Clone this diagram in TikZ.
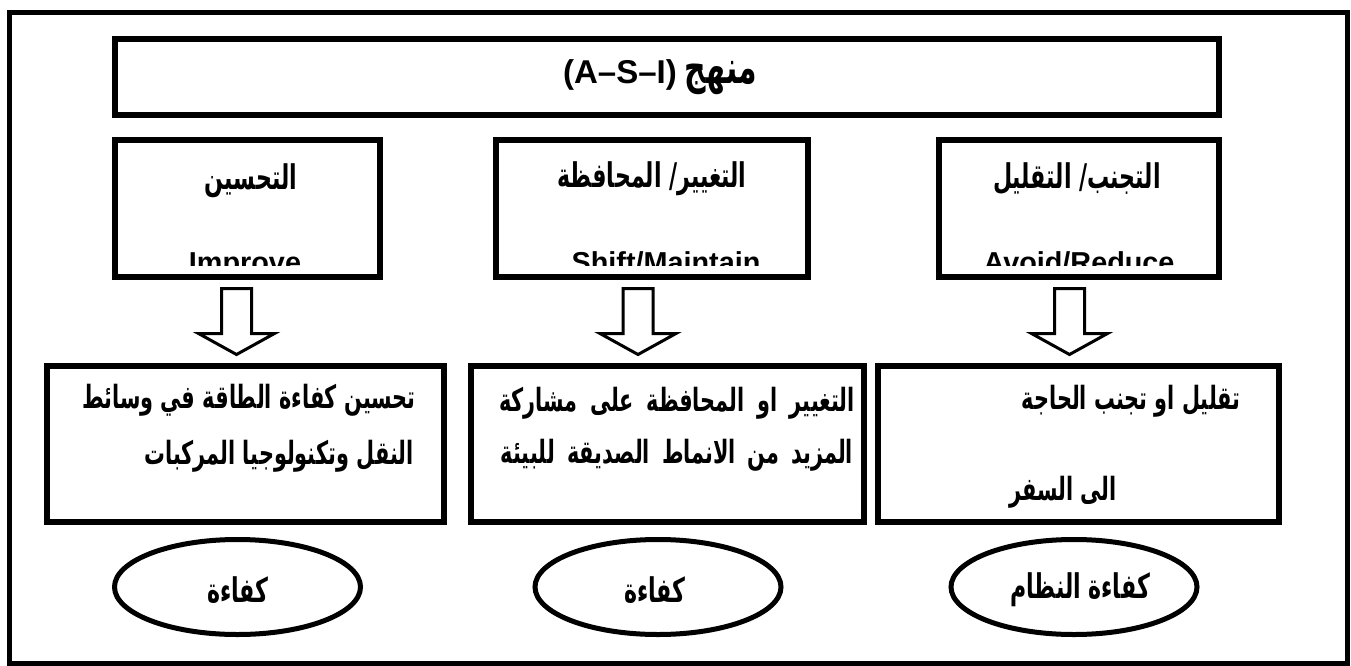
\documentclass[tikz,border=0pt]{standalone}
\usepackage{fontspec}
\setmainfont{Liberation Sans}
\newfontfamily\arabicfont[Script=Arabic, FakeStretch=0.65]{DejaVu Sans}
\TeXXeTstate=1
\usetikzlibrary{shapes.geometric}
\newcommand{\ar}[1]{{\arabicfont\bfseries\beginR #1\endR}}
\begin{document}
\begin{tikzpicture}[x=1pt,y=-1pt,
  outerframe/.style={draw, line width=4.5pt, rectangle, inner sep=0pt},
  headbox/.style={draw, line width=6pt, rectangle, inner sep=0pt, fill=white},
  goalbox/.style={draw, line width=6pt, rectangle, inner sep=0pt, fill=white},
  effbox/.style={draw, line width=5pt, ellipse, inner sep=0pt, minimum width=246pt, minimum height=95pt},
  uptext/.style={inner sep=0pt, font=\fontsize{34}{36}\selectfont},
  artext/.style={inner sep=0pt, font=\fontsize{32}{34}\selectfont},
  entext/.style={inner sep=0pt, anchor=base, font=\fontsize{28.8}{30}\selectfont\bfseries},
  efftext/.style={inner sep=0pt, font=\fontsize{34}{36}\selectfont},
  blockarrow/.pic={\draw[line width=3pt, fill=white, line join=miter]
     (-15,0) -- (15,0) -- (15,45) -- (38,45) -- (0,66) -- (-38,45) -- (-15,45) -- cycle;}
]
\useasboundingbox (0,0) rectangle (1351,666);

% outer frame
\node[outerframe, minimum width=1338pt, minimum height=651pt] (frame) at (678.5,338) {};

% title box
\node[headbox, minimum width=1104pt, minimum height=76pt] (title) at (667,77) {};
\node[inner sep=0pt] (titletext) at (660,77)
  {\fontsize{33}{36}\selectfont\bfseries (A–S–I)\hspace{8pt}{\fontsize{46}{48}\selectfont\ar{منهج}}};

% strategy boxes
\node[headbox, minimum width=265.5pt, minimum height=136.5pt] (u1) at (247.25,208.25) {};
\node[headbox, minimum width=312pt, minimum height=136.5pt] (u2) at (652,208.25) {};
\node[headbox, minimum width=280pt, minimum height=136.5pt] (u3) at (1078.5,208.25) {};

\node[uptext] (u1ar) at (251,181) {\ar{التحسين}};
\node[uptext] (u2ar) at (652,179) {\ar{التغيير/ المحافظة}};
\node[uptext] (u3ar) at (1077,179) {\ar{التجنب/ التقليل}};

\begin{scope}
  \clip (118,144) rectangle (1215,265.5);
  \node[entext] (u1en) at (245,272.5) {Improve};
  \node[entext] (u2en) at (666,272.5) {Shift/Maintain};
  \node[entext] (u3en) at (1079,272.5) {Avoid/Reduce};
\end{scope}

% block arrows
\pic at (236.5,288.5) {blockarrow};
\pic at (638,288.5) {blockarrow};
\pic at (1069.5,288.5) {blockarrow};

% goal boxes
\node[goalbox, minimum width=397pt, minimum height=155.5pt] (l1) at (245,443.75) {};
\node[goalbox, minimum width=393pt, minimum height=155.5pt] (l2) at (667,443.75) {};
\node[goalbox, minimum width=401pt, minimum height=155.5pt] (l3) at (1078,443.75) {};

\node[artext] (l1a) at (249,400) {\ar{تحسين كفاءة الطاقة في وسائط}};
\node[artext] (l1b) at (279,456) {\ar{النقل وتكنولوجيا المركبات}};
\node[artext] (l2a) at (677,403) {\spaceskip=12.5pt\ar{التغيير او المحافظة على مشاركة}};
\node[artext] (l2b) at (677,455) {\spaceskip=12pt\ar{المزيد من الانماط الصديقة للبيئة}};
\node[artext] (l3a) at (1131,401) {\ar{تقليل او تجنب الحاجة}};
\node[artext] (l3b) at (1063,492) {\ar{الى السفر}};

% efficiency ellipses
\node[effbox] (e1) at (237.5,587) {};
\node[effbox] (e2) at (658,587) {};
\node[effbox] (e3) at (1074,587) {};
\node[efftext] (e1t) at (238,590) {\ar{كفاءة}};
\node[efftext] (e2t) at (655,590) {\ar{كفاءة}};
\node[efftext] (e3t) at (1080,590) {\ar{كفاءة النظام}};
\end{tikzpicture}
\end{document}
